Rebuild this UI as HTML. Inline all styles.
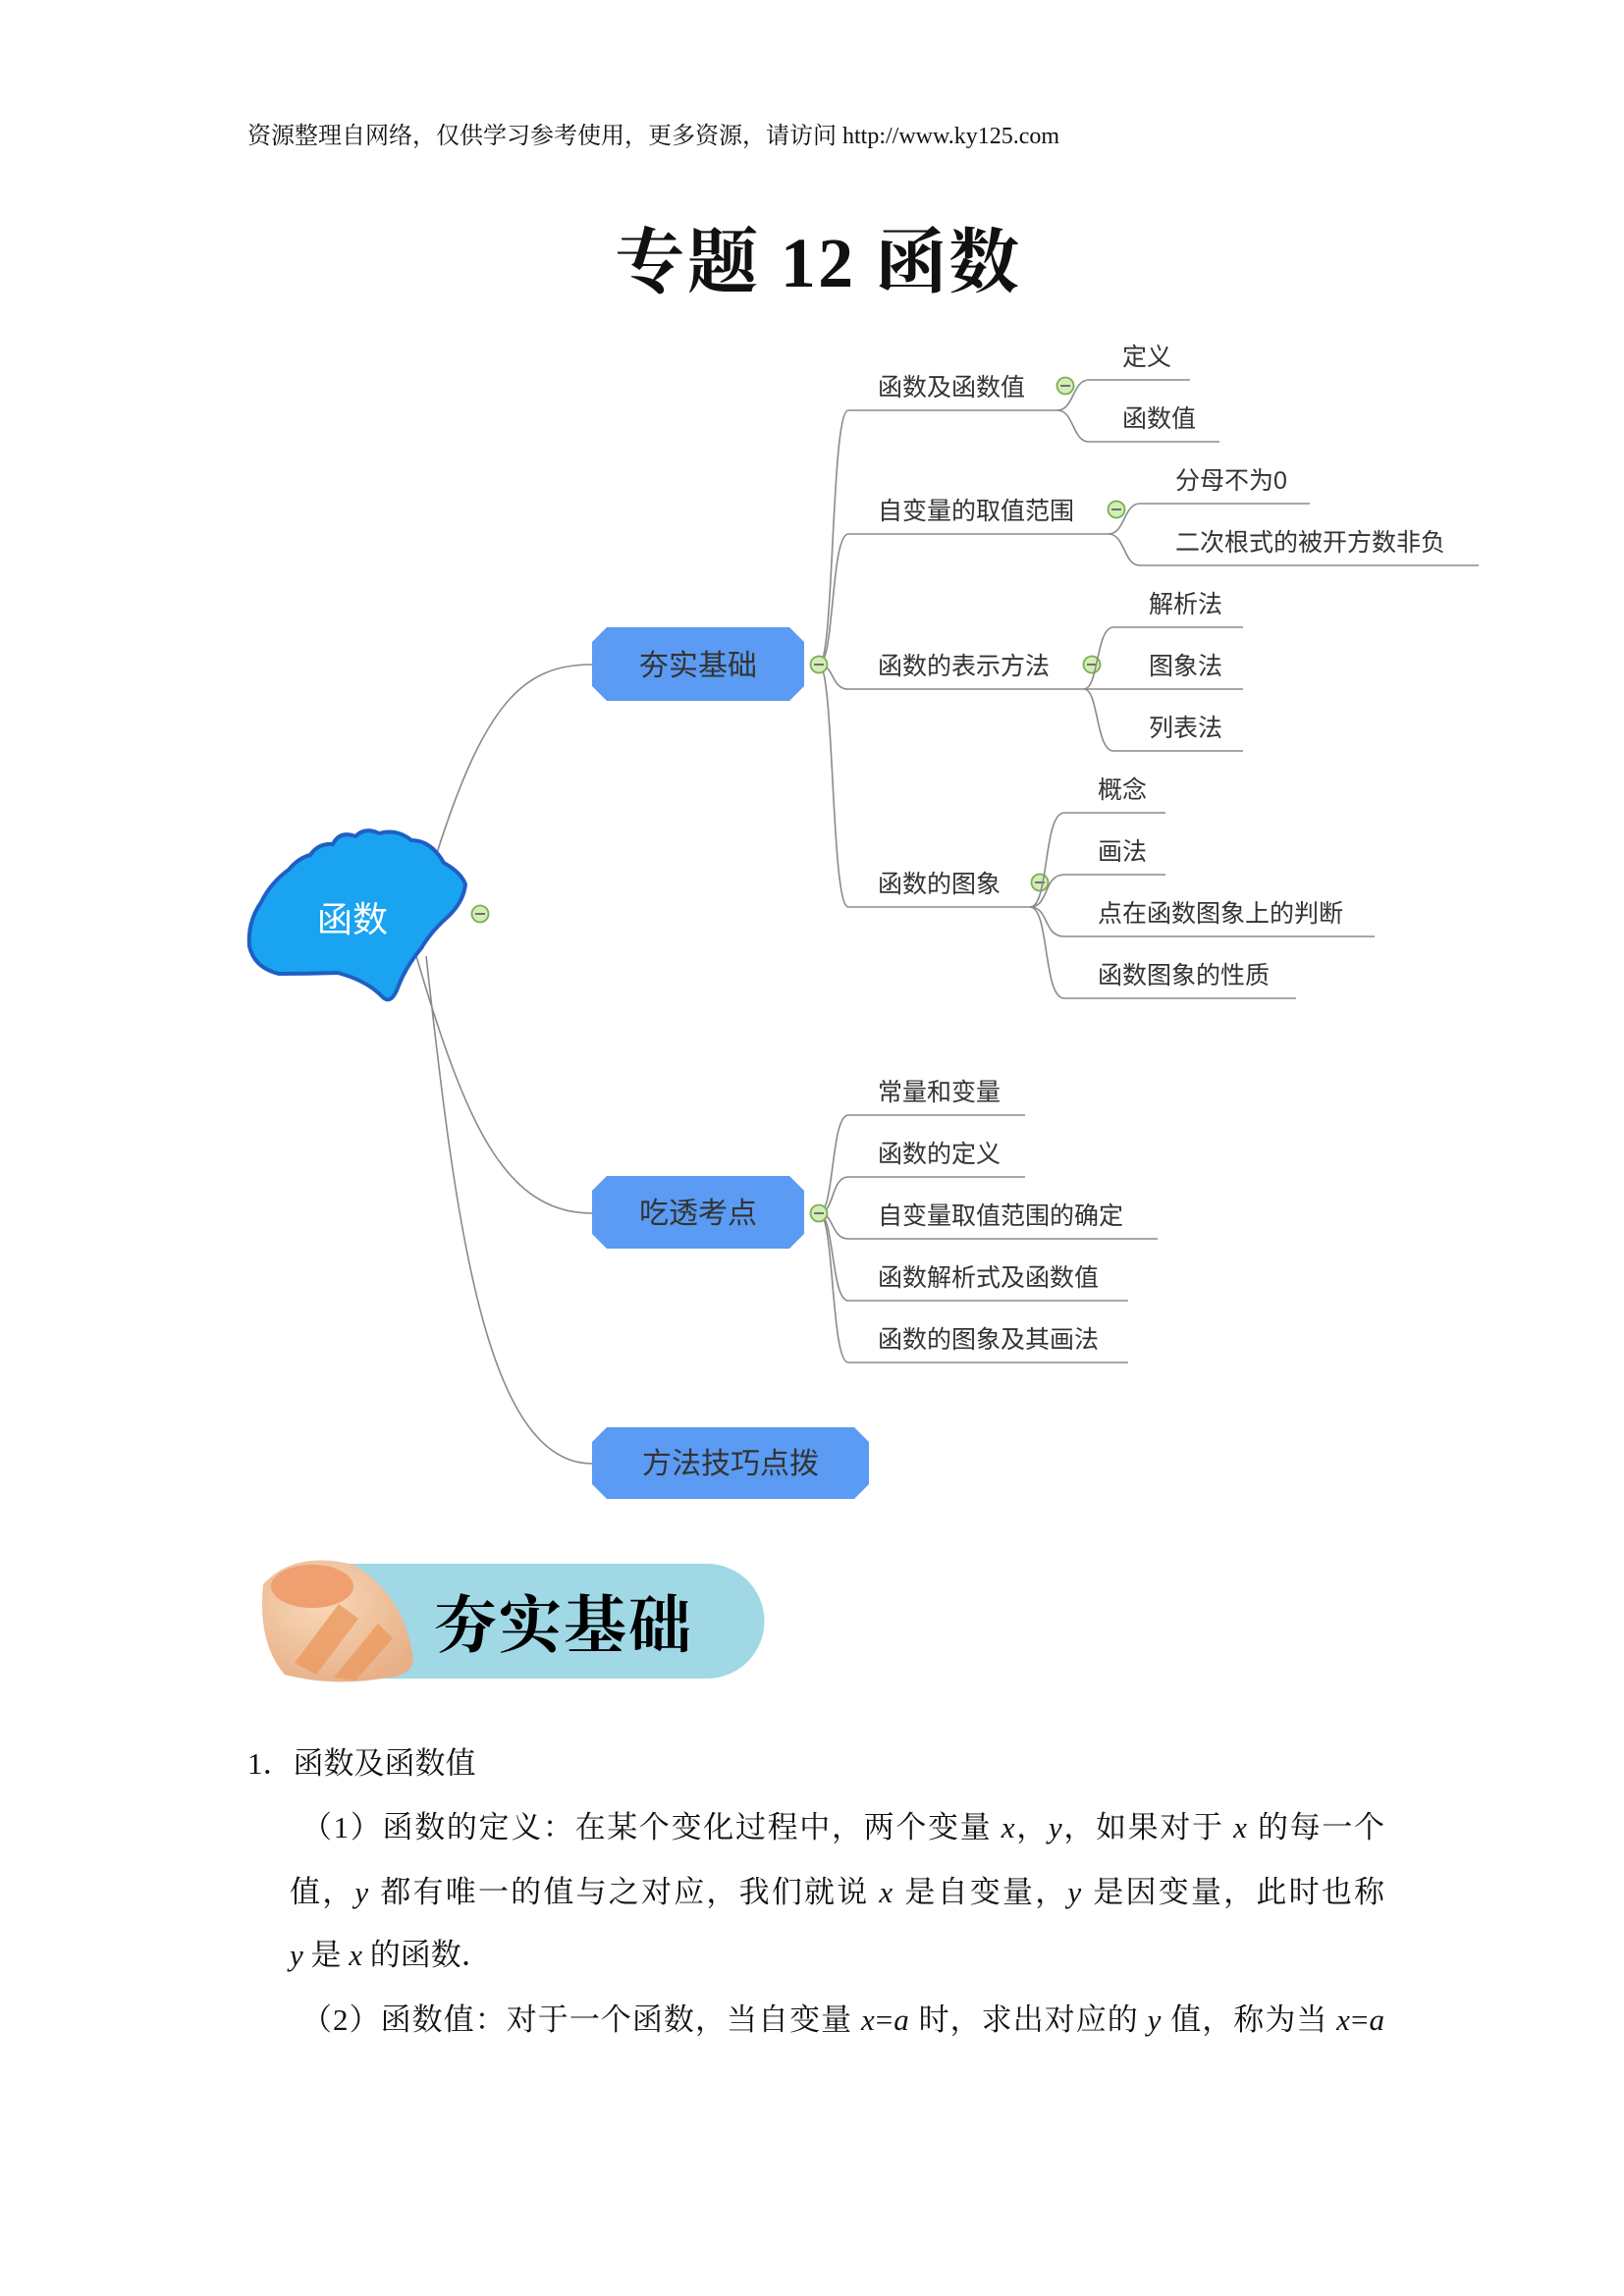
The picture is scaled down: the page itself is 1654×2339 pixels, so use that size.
<!DOCTYPE html>
<html><head><meta charset="utf-8"><style>
html,body{margin:0;padding:0;background:#fff}
svg{display:block}
.m{font-family:"Liberation Sans","Noto Sans CJK SC",sans-serif;font-size:25px;fill:#333}
.s{font-family:"Liberation Serif","Noto Serif CJK SC",serif;fill:#111}
.l{fill:none;stroke:#8a8a8a;stroke-width:1.6}
.b{font-family:"Liberation Sans","Noto Sans CJK SC",sans-serif;font-size:30px;fill:#333}
</style></head><body>
<svg width="1654" height="2339" viewBox="0 0 1654 2339" xmlns="http://www.w3.org/2000/svg">
<defs>
<g id="tg"><circle r="8.5" fill="#d4ecb8" stroke="#78b050" stroke-width="1.8"/><line x1="-5" y1="0" x2="5" y2="0" stroke="#555" stroke-width="1.6"/></g>
<radialGradient id="sh" cx="0.4" cy="0.35" r="0.7"><stop offset="0" stop-color="#f8d8b8"/><stop offset="1" stop-color="#e8b088"/></radialGradient>
</defs>
<text class="s" x="252" y="146" font-size="24">资源整理自网络，仅供学习参考使用，更多资源，请访问 http://www.ky125.com</text>
<text class="s" x="832" y="292" font-size="72" font-weight="bold" text-anchor="middle" textLength="412">专题 12  函数</text>

<g transform="translate(-6,-6)">
<!-- root connectors -->
<path class="l" d="M450 878 C500 720 540 683 609 683"/>
<path class="l" d="M430 980 C480 1150 520 1242 609 1242"/>
<path class="l" d="M440 980 C470 1250 500 1497 609 1497"/>

<!-- root blob -->
<path d="M322 877 Q330 865 345 866 Q352 852 368 858 Q378 848 392 855 Q410 850 425 862 Q445 862 458 885 Q476 895 480 907 Q478 925 462 940 Q445 955 435 972 Q420 990 412 1010 Q405 1030 396 1022 Q380 1005 350 997 Q320 998 290 998 Q265 992 260 970 Q258 945 272 925 Q282 905 300 892 Q310 880 322 877 Z" fill="#1aa3f0" stroke="#1f5fc4" stroke-width="4" stroke-linejoin="round"/>
<text x="365" y="955" font-family="Liberation Sans,'Noto Sans CJK SC',sans-serif" font-size="36" fill="#fff" text-anchor="middle">函数</text>
<use href="#tg" x="495" y="937"/>

<!-- boxes -->
<polygon points="624,645 810,645 825,660 825,705 810,720 624,720 609,705 609,660" fill="#5b9bf3"/>
<text class="b" x="717" y="694" text-anchor="middle">夯实基础</text>
<polygon points="624,1204 810,1204 825,1219 825,1263 810,1278 624,1278 609,1263 609,1219" fill="#5b9bf3"/>
<text class="b" x="717" y="1252" text-anchor="middle">吃透考点</text>
<polygon points="624,1460 876,1460 891,1475 891,1518 876,1533 624,1533 609,1518 609,1475" fill="#5b9bf3"/>
<text class="b" x="750" y="1507" text-anchor="middle">方法技巧点拨</text>

<!-- 夯实 branches -->
<path class="l" d="M840 683 C856 683 852 424 870 424 L1083 424"/>
<path class="l" d="M840 683 C856 683 852 550 870 550 L1135 550"/>
<path class="l" d="M840 683 C856 683 852 708 870 708 L1110 708"/>
<path class="l" d="M840 683 C856 683 852 930 870 930 L1055 930"/>
<text class="m" x="900" y="409">函数及函数值</text>
<text class="m" x="900" y="535">自变量的取值范围</text>
<text class="m" x="900" y="693">函数的表示方法</text>
<text class="m" x="900" y="915">函数的图象</text>
<use href="#tg" x="840" y="683"/>
<use href="#tg" x="1091" y="399"/>
<use href="#tg" x="1143" y="525"/>
<use href="#tg" x="1118" y="683"/>
<use href="#tg" x="1065" y="905"/>

<path class="l" d="M1083 424 C1100 424 1098 393 1115 393 L1218 393"/>
<path class="l" d="M1083 424 C1100 424 1098 456 1115 456 L1248 456"/>
<text class="m" x="1149" y="378">定义</text>
<text class="m" x="1149" y="441">函数值</text>

<path class="l" d="M1135 550 C1152 550 1150 519 1167 519 L1340 519"/>
<path class="l" d="M1135 550 C1152 550 1150 582 1167 582 L1512 582"/>
<text class="m" x="1203" y="504">分母不为0</text>
<text class="m" x="1203" y="567">二次根式的被开方数非负</text>

<path class="l" d="M1110 708 C1125 708 1122 645 1140 645 L1272 645"/>
<path class="l" d="M1110 708 L1272 708"/>
<path class="l" d="M1110 708 C1125 708 1122 771 1140 771 L1272 771"/>
<text class="m" x="1176" y="630">解析法</text>
<text class="m" x="1176" y="693">图象法</text>
<text class="m" x="1176" y="756">列表法</text>

<path class="l" d="M1055 930 C1075 930 1068 834 1090 834 L1193 834"/>
<path class="l" d="M1055 930 C1075 930 1068 897 1090 897 L1193 897"/>
<path class="l" d="M1055 930 C1075 930 1068 960 1090 960 L1406 960"/>
<path class="l" d="M1055 930 C1075 930 1068 1023 1090 1023 L1326 1023"/>
<text class="m" x="1124" y="819">概念</text>
<text class="m" x="1124" y="882">画法</text>
<text class="m" x="1124" y="945">点在函数图象上的判断</text>
<text class="m" x="1124" y="1008">函数图象的性质</text>

<!-- 吃透 branches -->
<path class="l" d="M840 1242 C856 1242 852 1142 870 1142 L1050 1142"/>
<path class="l" d="M840 1242 C856 1242 852 1205 870 1205 L1050 1205"/>
<path class="l" d="M840 1242 C856 1242 852 1268 870 1268 L1185 1268"/>
<path class="l" d="M840 1242 C856 1242 852 1331 870 1331 L1155 1331"/>
<path class="l" d="M840 1242 C856 1242 852 1394 870 1394 L1155 1394"/>
<use href="#tg" x="840" y="1242"/>
<text class="m" x="900" y="1127">常量和变量</text>
<text class="m" x="900" y="1190">函数的定义</text>
<text class="m" x="900" y="1253">自变量取值范围的确定</text>
<text class="m" x="900" y="1316">函数解析式及函数值</text>
<text class="m" x="900" y="1379">函数的图象及其画法</text>
</g>

<g transform="translate(0,-6)">
<!-- banner -->
<path d="M345 1599 L720 1599 A58.5 58.5 0 0 1 720 1716 L345 1716 Z" fill="#a0d8e6"/>
<path d="M268 1620 Q300 1585 360 1600 Q410 1630 420 1690 Q425 1712 395 1715 Q340 1725 290 1712 Q262 1680 268 1620 Z" fill="url(#sh)"/>
<ellipse cx="318" cy="1622" rx="42" ry="22" fill="#f0a070"/>
<path d="M300 1700 L345 1640 L365 1655 L322 1712 Z" fill="#eb9a60" opacity="0.8"/>
<path d="M340 1715 L385 1660 L400 1675 L362 1718 Z" fill="#eb9a60" opacity="0.8"/>
<text x="442" y="1684" font-family="Liberation Serif,'Noto Serif CJK SC',serif" font-size="64" font-weight="bold" fill="#000" textLength="262">夯实基础</text>

<!-- body -->
<text class="s" x="252" y="1813" font-size="31">1．函数及函数值</text>
<text class="s" x="307" y="1878" font-size="31" textLength="1103">（1）函数的定义：在某个变化过程中，两个变量 <tspan font-style="italic">x</tspan>，<tspan font-style="italic">y</tspan>，如果对于 <tspan font-style="italic">x</tspan> 的每一个</text>
<text class="s" x="295" y="1944" font-size="31" textLength="1115">值，<tspan font-style="italic">y</tspan> 都有唯一的值与之对应，我们就说 <tspan font-style="italic">x</tspan> 是自变量，<tspan font-style="italic">y</tspan> 是因变量，此时也称</text>
<text class="s" x="295" y="2008" font-size="31"><tspan font-style="italic">y</tspan> 是 <tspan font-style="italic">x</tspan> 的函数．</text>
<text class="s" x="307" y="2074" font-size="31" textLength="1103">（2）函数值：对于一个函数，当自变量 <tspan font-style="italic">x</tspan>=<tspan font-style="italic">a</tspan> 时，求出对应的 <tspan font-style="italic">y</tspan> 值，称为当 <tspan font-style="italic">x</tspan>=<tspan font-style="italic">a</tspan></text>
</g>
</svg>
</body></html>
